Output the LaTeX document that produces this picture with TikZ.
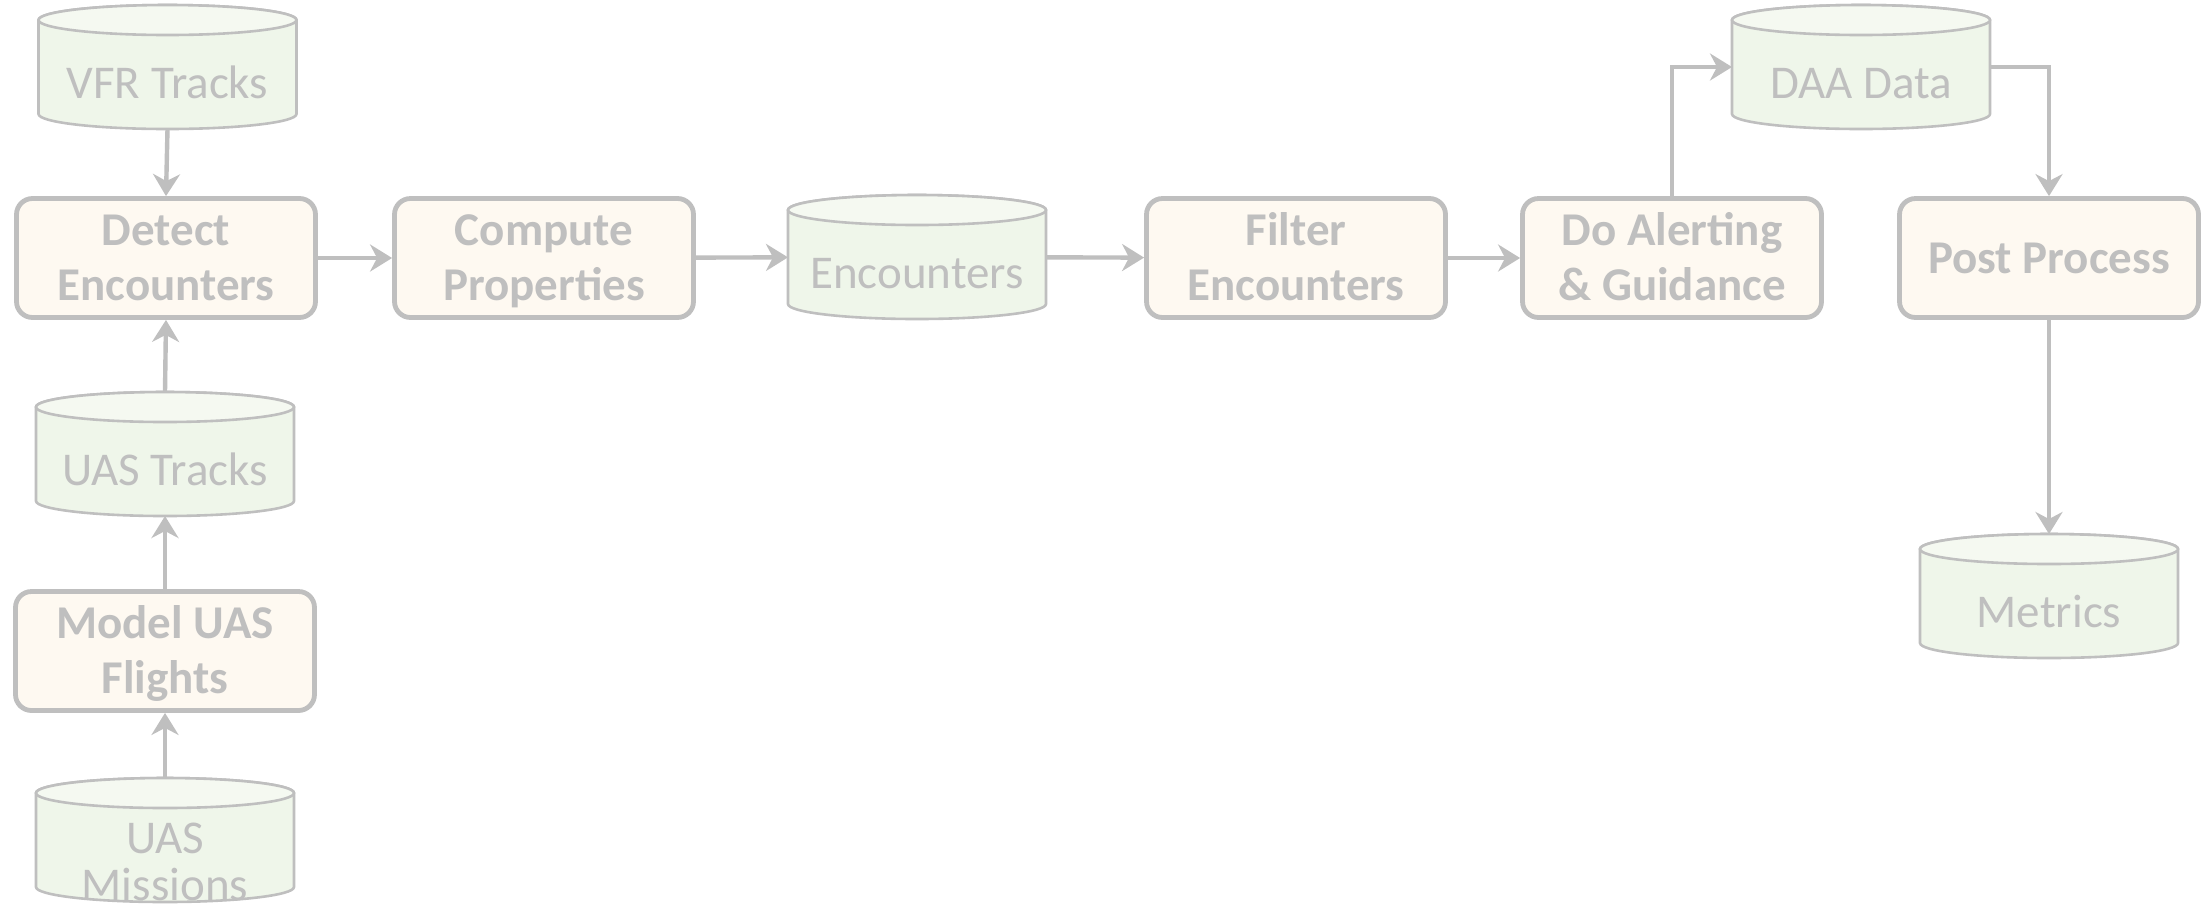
\documentclass[tikz,border=0pt]{standalone}
\usepackage{fontspec}
\setmainfont{Carlito}
\usetikzlibrary{arrows.meta,calc}
\definecolor{gtext}{HTML}{BFBFBF}
\definecolor{gline}{HTML}{BFBFBF}
\definecolor{boxfill}{HTML}{FEF9F1}
\definecolor{cylfill}{HTML}{EFF6EA}
\definecolor{cyltopfill}{HTML}{F5F9F1}
\tikzset{
  procbox/.style={draw=gline, fill=boxfill, line width=2.4pt, rounded corners=8pt,
    minimum width=149.5pt, minimum height=59.5pt, inner sep=0pt},
  boxtext/.style={text=gtext, inner sep=0pt, anchor=base, font=\bfseries\fontsize{23.5}{28}\selectfont},
  cylnode/.style={rectangle, minimum width=129pt, minimum height=62pt, inner sep=0pt, outer sep=0pt},
  cylbody/.style={fill=cylfill, draw=gline, line width=1.3pt},
  cyltop/.style={fill=cyltopfill, draw=gline, line width=1.3pt},
  cyltext/.style={text=gtext, inner sep=0pt, anchor=base, font=\fontsize{23.5}{27}\selectfont},
  conn/.style={draw=gline, line width=2.2pt, -{Stealth[length=11pt,width=13.5pt,inset=3.5pt]}}
}
% process box: name, x, y, line1, line2
\newcommand\procA[5]{%
  \node[procbox] (#1) at (#2,#3) {};
  \node[boxtext] (#1-a) at ([yshift=6.25pt]#1.center) {#4};
  \node[boxtext] (#1-b) at ([yshift=-21.25pt]#1.center) {#5};
}
\newcommand\procB[4]{%
  \node[procbox] (#1) at (#2,#3) {};
  \node[boxtext] (#1-a) at ([yshift=-7.75pt]#1.center) {#4};
}
\newcommand\dbshape[3]{%
  \node[cylnode] (#1) at (#2,#3) {};
  \path[cylbody] ([yshift=-7.5pt]#1.north west) -- ([yshift=7.5pt]#1.south west)
     arc[start angle=180,end angle=360,x radius=64.5pt,y radius=7.5pt]
     -- ([yshift=-7.5pt]#1.north east)
     arc[start angle=0,end angle=180,x radius=64.5pt,y radius=7.5pt] -- cycle;
  \path[cyltop] ([yshift=-7.5pt]#1.north) ellipse[x radius=64.5pt,y radius=7.5pt];
}
\newcommand\dbcyl[4]{%
  \dbshape{#1}{#2}{#3}
  \node[cyltext] (#1-a) at ([yshift=-15.5pt]#1.center) {#4};
}
\begin{document}
\begin{tikzpicture}[x=0.5pt,y=-0.5pt]
\useasboundingbox (0,0) rectangle (2211,912);
% process boxes
\procA{det}{166}{258}{Detect}{Encounters}
\procA{cmp}{544}{258}{Compute}{Properties}
\procA{fil}{1296}{258}{Filter}{Encounters}
\procA{alr}{1672}{258}{Do Alerting}{\& Guidance}
\procB{post}{2049}{258}{Post Process}
\procA{model}{165}{651}{Model UAS}{Flights}
% data stores
\dbcyl{vfr}{167.5}{67}{VFR Tracks}
\dbcyl{uast}{165}{454}{UAS Tracks}
\dbshape{uasm}{165}{840}
\node[cyltext] (uasm-a) at ([yshift=-6.5pt]uasm.center) {UAS};
\node[cyltext] (uasm-b) at ([yshift=-30pt]uasm.center) {Missions};
\dbcyl{enc}{917}{257}{Encounters}
\dbcyl{daa}{1861}{67}{DAA Data}
\dbcyl{met}{2049}{596}{Metrics}
% connectors
\draw[conn] (vfr.south) -- (det.north);
\draw[conn] (uast.north) -- (det.south);
\draw[conn] (model.north) -- (uast.south);
\draw[conn] (uasm.north) -- (model.south);
\draw[conn] (det) -- (cmp);
\draw[conn] (cmp) -- (enc);
\draw[conn] (enc) -- (fil);
\draw[conn] (fil) -- (alr);
\draw[conn] (alr.north) |- (daa.west);
\draw[conn] (daa.east) -| (post.north);
\draw[conn] (post.south) -- (met.north);
\end{tikzpicture}
\end{document}
